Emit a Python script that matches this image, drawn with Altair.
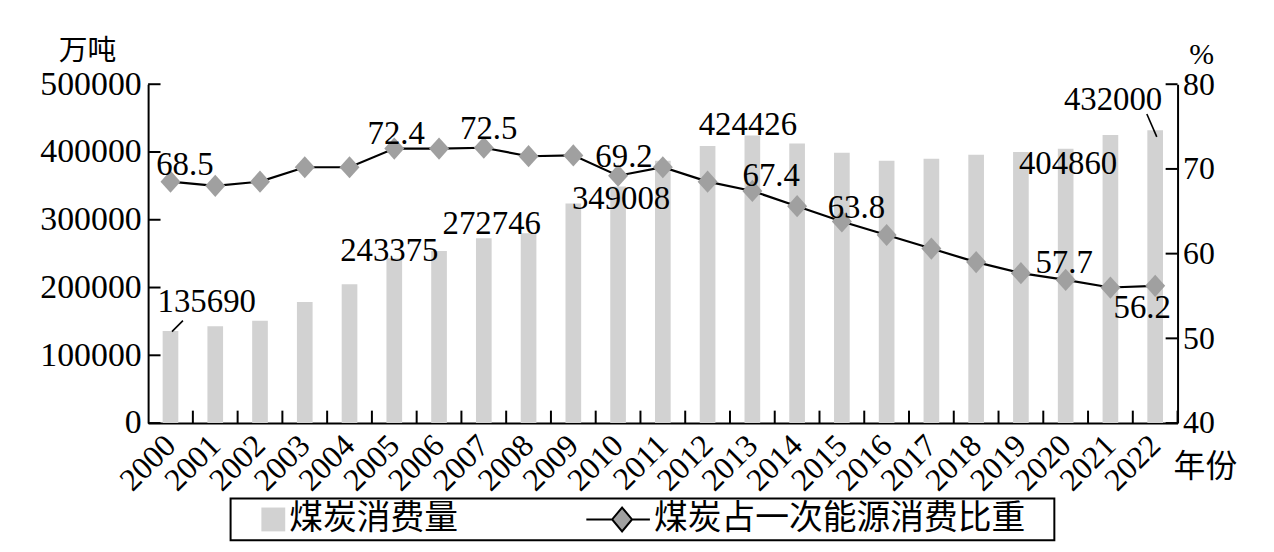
import altair as alt
import pandas as pd

# ---------------- data ----------------
years = list(range(2000, 2023))
consumption = [135690, 143000, 151000, 178500, 205000, 243375, 254000, 272746,
               280000, 324000, 349008, 387000, 409000, 424426, 412500, 399000,
               387000, 390000, 396000, 400000, 404860, 425000, 432000]
share = [68.5, 68.0, 68.5, 70.2, 70.2, 72.4, 72.4, 72.5, 71.5, 71.6, 69.2, 70.2,
         68.5, 67.4, 65.6, 63.8, 62.2, 60.6, 59.0, 57.7, 56.9, 56.0, 56.2]
series_names = ["煤炭消费量", "煤炭占一次能源消费比重"]
left_ticks = [0, 100000, 200000, 300000, 400000, 500000]
right_ticks = [40, 50, 60, 70, 80]
bar_label_years = [2000, 2005, 2007, 2010, 2013, 2020, 2022]
share_label_years = [2000, 2005, 2007, 2010, 2013, 2015, 2019, 2022]
leader_years = [2000, 2022]

# ---------------- style ----------------
W, H = 1036, 341
SERIF = "Liberation Serif"
CJK = "Noto Sans CJK SC"
BAR_COLOR = "#d2d2d2"
DIAMOND_COLOR = "#a0a0a0"
DIAMOND = "M0,-1L0.9,0L0,1L-0.9,0Z"
SQ_PATH = "M0.625,-0.75H2.125V0.75H0.625Z"
LD_PATH = "M-1.875,0H-0.25M1,0H2.125M0.375,-0.75L1,0L0.375,0.75L-0.25,0Z"

bar_label_offsets = {2000: (36.5, -29), 2005: (-5, -7), 2007: (8, -14), 2010: (3, 13),
                     2013: (-4.5, -10), 2020: (2.4, 15.4), 2022: (-42.4, -30)}
share_label_offsets = {2000: (14.5, -17), 2005: (2, -15), 2007: (5, -18.6), 2010: (6, -19),
                       2013: (19, -15), 2015: (14.6, -13.6), 2019: (43.5, -10), 2022: (-13, 22.4)}
leader_offsets = {2000: (1.5, 0.5, 12.5, -10.5), 2022: (-8.4, -16.4, 1.6, 6.6)}

df = pd.DataFrame({"year": years, "consumption": consumption, "share": share})

x_scale = alt.Scale(paddingInner=0, paddingOuter=0)
x_axis = alt.Axis(title="年份", titleX=1063.5, titleY=43.5, titleAngle=0, titleAlign="center",
                  titleBaseline="middle", titleFont=CJK, titleFontSize=32, titleFontWeight="normal",
                  titleColor="black", labelAngle=-45, labelAlign="right", labelBaseline="middle",
                  labelFont=SERIF, labelFontSize=32, labelColor="black", labelPadding=17,
                  ticks=False, tickSize=0, domainColor="black", domainWidth=2, grid=False,
                  labelOverlap=False)


def X(band_pos=None):
    if band_pos is None:
        return alt.X("year:O", scale=x_scale, axis=x_axis)
    return alt.X("year:O", scale=x_scale, axis=x_axis, bandPosition=band_pos)


yl_scale = alt.Scale(domain=[0, 500000], nice=False, zero=True)
yl_axis = alt.Axis(orient="left", values=left_ticks, format="d", title="万吨", titleAngle=0,
                   titleX=-61.5, titleY=-34, titleAlign="center", titleBaseline="middle",
                   titleFont=CJK, titleFontSize=29, titleFontWeight="normal", titleColor="black",
                   labelFont=SERIF, labelFontSize=34, labelColor="black", labelPadding=7,
                   ticks=False, tickSize=0, domainColor="black", domainWidth=2, grid=False,
                   labelOverlap=False)
yr_scale = alt.Scale(domain=[40, 80], nice=False, zero=False)
yr_axis = alt.Axis(orient="right", values=right_ticks, format="d", title="%", titleAngle=0,
                   titleX=23.7, titleY=-30, titleAlign="center", titleBaseline="middle",
                   titleFont=SERIF, titleFontSize=30, titleFontWeight="normal", titleColor="black",
                   labelFont=SERIF, labelFontSize=32, labelColor="black", labelPadding=5,
                   ticks=False, tickSize=0, domainColor="black", domainWidth=2, grid=False,
                   labelOverlap=False)


def YL():
    return alt.Y("consumption:Q", scale=yl_scale, axis=yl_axis)


def YR():
    return alt.Y("share:Q", scale=yr_scale, axis=yr_axis)


base = alt.Chart(df)

bars = base.mark_bar(color=BAR_COLOR, width=alt.RelativeBandSize(0.35)).encode(x=X(), y=YL())

xticks = base.mark_rule(color="black", strokeWidth=2).encode(
    x=X(1), y=alt.value(H - 12.5), y2=alt.value(H))

lticks = alt.Chart(pd.DataFrame({"consumption": left_ticks})).mark_rule(
    color="black", strokeWidth=2).encode(y=YL(), x=alt.value(0), x2=alt.value(12.5))

rticks = alt.Chart(pd.DataFrame({"share": right_ticks})).mark_rule(
    color="black", strokeWidth=2).encode(y=YR(), x=alt.value(W - 12), x2=alt.value(W))

bar_labels = []
for yr in bar_label_years:
    dx, dy = bar_label_offsets[yr]
    bar_labels.append(
        base.transform_filter(alt.datum.year == yr).mark_text(
            font=SERIF, fontSize=33, color="black", align="center", baseline="middle",
            dx=dx, dy=dy).encode(x=X(), y=YL(), text=alt.Text("consumption:Q", format="d")))

leaders = []
for yr in leader_years:
    x0, y0, x1, y1 = leader_offsets[yr]
    leaders.append(
        base.transform_filter(alt.datum.year == yr).mark_rule(
            color="black", strokeWidth=1.6, xOffset=x0, yOffset=y0, x2Offset=x1, y2Offset=y1
        ).encode(x=X(), x2="year:O", y=YL(), y2="consumption:Q"))

legend = alt.Legend(title=None, orient="none", legendX=83, legendY=417, direction="horizontal",
                    labelFont=CJK, labelFontSize=34, labelColor="black", labelOffset=21,
                    labelLimit=1000, columnPadding=125, padding=4, strokeColor="black",
                    symbolSize=1024, symbolStrokeWidth=2,
                    labelExpr="datum.label == '煤炭消费量' ? datum.label : datum.label + '\u2800'")

dummy = alt.Chart(pd.DataFrame({"series": series_names})).transform_filter("false").mark_point(
    filled=True, opacity=1).encode(
    color=alt.Color("series:N", scale=alt.Scale(domain=series_names, range=[BAR_COLOR, DIAMOND_COLOR]),
                    legend=legend),
    shape=alt.Shape("series:N", scale=alt.Scale(domain=series_names, range=[SQ_PATH, LD_PATH]),
                    legend=legend),
    stroke=alt.Stroke("series:N", scale=alt.Scale(domain=series_names, range=["transparent", "black"]),
                      legend=legend),
)

left = alt.layer(bars, xticks, lticks, *leaders, *bar_labels, dummy)

line = base.mark_line(color="black", strokeWidth=2.2).encode(x=X(), y=YR())
points = base.mark_point(shape=DIAMOND, filled=True, size=500, color=DIAMOND_COLOR, opacity=1).encode(
    x=X(), y=YR())

share_labels = []
for yr in share_label_years:
    dx, dy = share_label_offsets[yr]
    share_labels.append(
        base.transform_filter(alt.datum.year == yr).mark_text(
            font=SERIF, fontSize=33, color="black", align="center", baseline="middle",
            dx=dx, dy=dy).encode(x=X(), y=YR(), text=alt.Text("share:Q", format=".1f")))

right = alt.layer(line, points, rticks, *share_labels)

chart = alt.layer(left, right).resolve_scale(y="independent").properties(
    width=W, height=H,
    autosize=alt.AutoSizeParams(type="none"),
    padding={"left": 141, "top": 75, "right": 89, "bottom": 120},
    background="white",
).configure_view(stroke=None).configure_legend(strokeWidth=2)

chart.save("out.html", embed_options={"renderer": "svg", "actions": False})
